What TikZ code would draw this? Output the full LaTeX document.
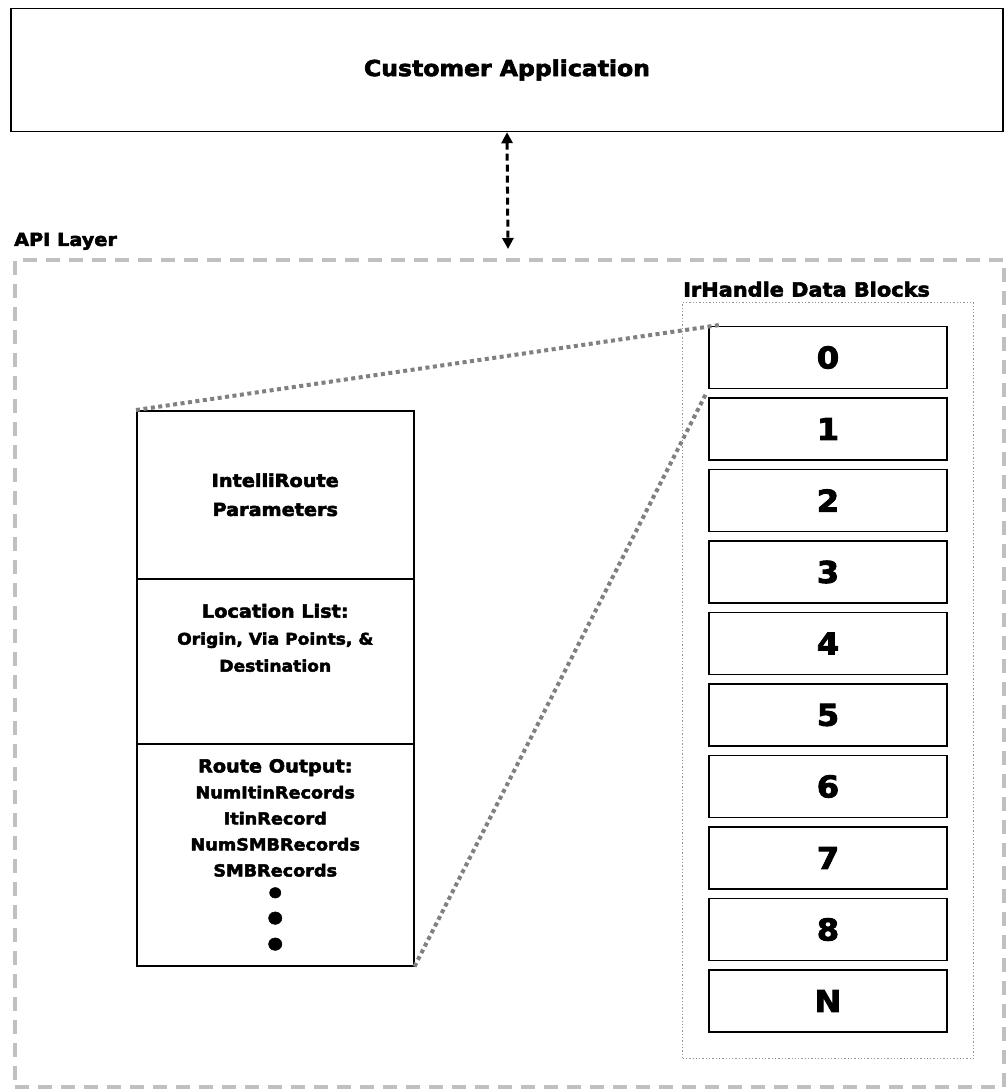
\documentclass[tikz,border=0pt]{standalone}
\usepackage{fontspec}
\setmainfont{DejaVu Sans}[BoldFeatures={FakeBold=3,FakeStretch=1.07}]
\usetikzlibrary{arrows.meta,calc}
\definecolor{apigray}{RGB}{192,192,192}
\definecolor{zoomgray}{RGB}{128,128,128}
\definecolor{framegray}{RGB}{150,150,150}

\begin{document}
\begin{tikzpicture}[x=1pt,y=-1pt,
    box/.style={draw, line width=1.5pt, inner sep=0pt, align=center},
    lbl/.style={inner sep=0pt, font=\bfseries\fontsize{19.5}{22}\selectfont},
    blk/.style={box, minimum width=238, minimum height=62, font=\bfseries\fontsize{30}{32}\selectfont},
    part/.style={box, minimum width=277, anchor=north west},
    zoomline/.style={draw=zoomgray, line width=4pt, dash pattern=on 4pt off 3.5pt},
    dasharrow/.style={{Triangle[length=11pt,width=11pt]}-{Triangle[length=11pt,width=11pt]}, line width=3pt, dash pattern=on 7pt off 4pt}]
    \useasboundingbox (0,0) rectangle (1008,1090);

    % top box
    \node[box, minimum width=992, minimum height=123, font=\bfseries\fontsize{22}{24}\selectfont] (app) at (507,70) {Customer Application};

    % api layer
    \node[draw=apigray, line width=3.5pt, dash pattern=on 14pt off 9pt, minimum width=989, minimum height=827, anchor=north west] (api) at (13,258) {};
    \node[lbl, anchor=south west, font=\bfseries\fontsize{18}{22}\selectfont] (apilbl) at (14,250) {API Layer};
    \coordinate (apitop) at (508,249);
    \draw[dasharrow] (app.south) -- (apitop);

    % data blocks
    \node[draw=framegray, dotted, line width=1.3pt, minimum width=291, minimum height=756, anchor=north west] (frame) at (682,302) {};
    \node[lbl, anchor=south west] (framelbl) at (683,297) {IrHandle Data Blocks};
    \foreach \i/\t in {0/0,1/1,2/2,3/3,4/4,5/5,6/6,7/7,8/8,9/N}
        \node[blk] (b\i) at (828,357.5+71.5*\i) {\t};

    % left stack
    \node[part, minimum height=168, font=\bfseries\fontsize{18}{29}\selectfont] (params) at (136,410) {IntelliRoute\\Parameters};
    \node[part, minimum height=165, font=\bfseries\fontsize{16}{27}\selectfont] (loc) at (136,578) {{\fontsize{18}{27}\selectfont Location List:}\\Origin, Via Points, \&\\Destination\\[20pt]};
    \node[part, minimum height=222, font=\bfseries\fontsize{16.5}{26}\selectfont] (out) at (136,743) {{\fontsize{18}{26}\selectfont Route Output:}\\NumItinRecords\\ItinRecord\\NumSMBRecords\\SMBRecords\\[-6pt]\fontsize{14}{21}\selectfont ●\\●\\●};

    \draw[zoomline] (params.north west) -- ($(b0.north west)+(13,-1)$);
    \draw[zoomline] (out.south east) -- ($(b0.south west)+(-2,4)$);
\end{tikzpicture}
\end{document}
